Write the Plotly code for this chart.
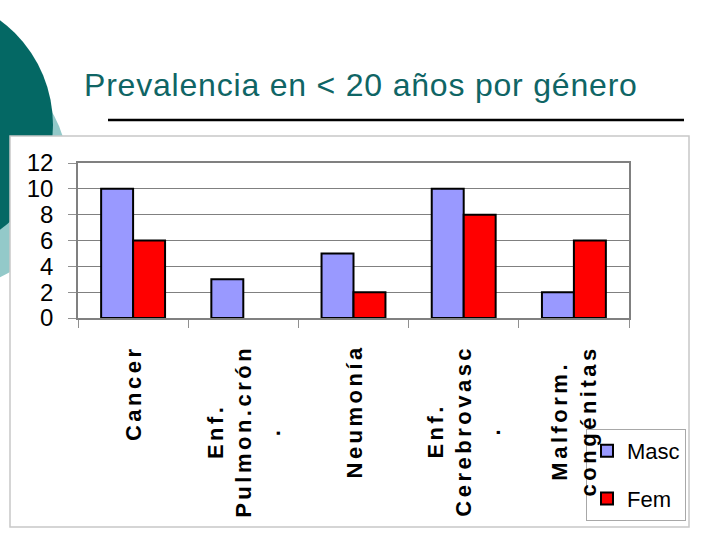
import plotly.graph_objects as go

# data
categories = ["Cancer", "Enf. Pulmon.crón.", "Neumonía", "Enf. Cerebrovasc.", "Malform. congénitas"]
category_lines = [["Cancer"], ["Enf.", "Pulmon.crón", "."], ["Neumonía"],
                  ["Enf.", "Cerebrovasc", "."], ["Malform.", "congénitas"]]
masc = [10, 3, 5, 10, 2]
fem = [6, None, 2, 8, 6]
y_ticks = [0, 2, 4, 6, 8, 10, 12]

TITLE = "Prevalencia en < 20 años por género"

# plot area in pixels (720x540 page)
L, R, T, B = 78, 629, 163, 318
W, H = R - L, B - T


def px(x):
    return (x - L) / W


def py(y):
    return (B - y) / H


def circle(cx, cy, r, color):
    return dict(type="circle", xref="paper", yref="paper", layer="below",
                x0=px(cx - r), x1=px(cx + r), y0=py(cy + r), y1=py(cy - r),
                fillcolor=color, line=dict(width=0))


def spaced(lines, sp):
    # bold, letter-spaced lines like the old office chart
    return "<br>".join('<span style="letter-spacing:%spx"><b>%s</b></span>' % (sp, s) for s in lines)


fig = go.Figure()
fig.add_trace(go.Bar(x=categories, y=masc, name="Masc", legendgroup="m",
                     marker=dict(color="#9999FF", line=dict(color="black", width=2))))
fig.add_trace(go.Bar(x=categories, y=fem, name="Fem", legendgroup="f",
                     marker=dict(color="#FF0000", line=dict(color="black", width=2))))

shapes = [
    circle(-49, 171, 117, "#93C9C9"),
    circle(-77, 125, 130, "#046864"),
    # white chart frame
    dict(type="rect", xref="paper", yref="paper", layer="below",
         x0=px(10), x1=px(689), y0=py(527), y1=py(136),
         fillcolor="white", line=dict(color="#C8C8C8", width=1.5)),
    # title underline
    dict(type="line", xref="paper", yref="paper",
         x0=px(108), x1=px(684), y0=py(120), y1=py(120),
         line=dict(color="black", width=2.5)),
]

annotations = [
    dict(text='<span style="letter-spacing:0.8px">%s</span>' % TITLE,
         xref="paper", yref="paper", x=px(82), y=py(85),
         xanchor="left", yanchor="middle", showarrow=False,
         font=dict(family="Liberation Sans, Arial", size=32, color="#0F6565")),
]
for cat, lines in zip(categories, category_lines):
    annotations.append(dict(text=spaced(lines, 3.5), xref="x", yref="paper", x=cat, y=0,
                            yshift=-25, xanchor="center", yanchor="top",
                            textangle=-90, align="center", showarrow=False,
                            font=dict(family="Liberation Sans, Arial", size=22, color="black")))

fig.update_layout(
    width=720, height=540,
    margin=dict(l=L, r=720 - R, t=T, b=540 - B, pad=0),
    paper_bgcolor="white",
    plot_bgcolor="#C0C0C0",
    barmode="group",
    bargap=0.42,
    bargroupgap=0,
    shapes=shapes,
    annotations=annotations,
    legend=dict(x=px(686), y=py(429), xanchor="right", yanchor="top",
                bgcolor="white", bordercolor="#A8A8A8", borderwidth=1,
                traceorder="grouped", tracegroupgap=16,
                font=dict(family="Liberation Sans, Arial", size=22, color="black")),
    xaxis=dict(type="category", showticklabels=False, tickson="boundaries",
               ticks="outside", ticklen=8, tickcolor="#909090",
               showline=True, mirror=True, linecolor="#808080", linewidth=1.5,
               showgrid=False),
    yaxis=dict(range=[0, 12], tickvals=y_ticks, ticks="outside", ticklen=8,
               tickcolor="#909090", ticklabelstandoff=10,
               tickfont=dict(family="Liberation Sans, Arial", size=24, color="black"),
               showline=True, mirror=True, linecolor="#808080", linewidth=1.5,
               gridcolor="#808080", gridwidth=1, zeroline=False),
)

# the page should start at the very corner, like the slide
fig.write_html("out.html", config={"displayModeBar": False},
               post_script="document.body.style.margin='0';")
